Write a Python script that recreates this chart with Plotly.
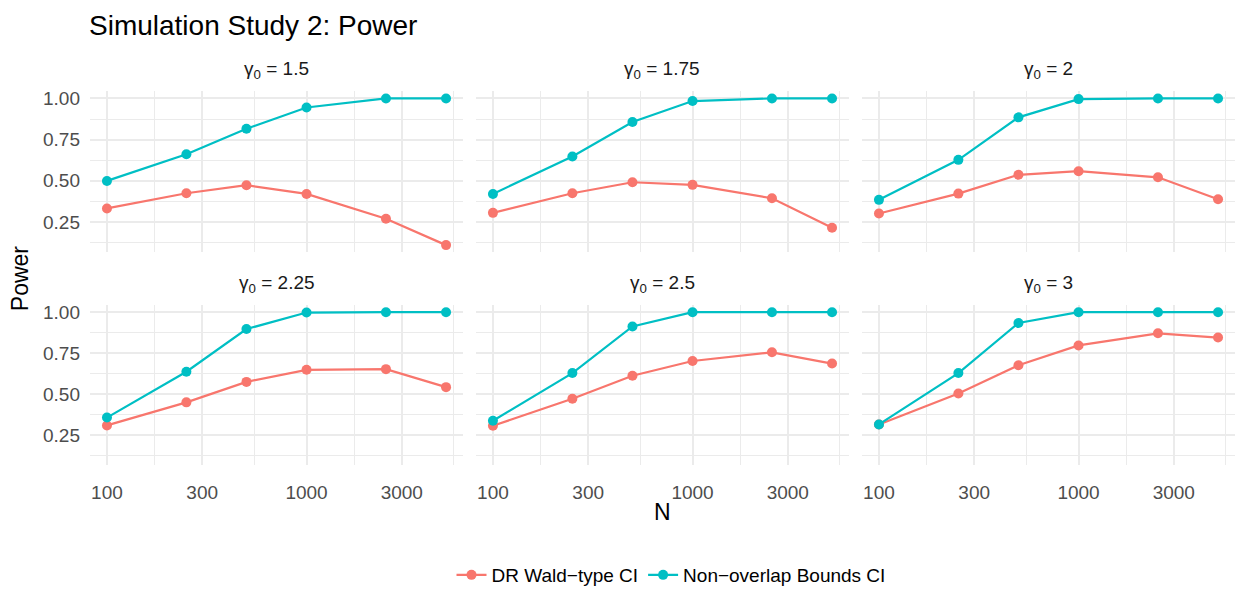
import math
import plotly.graph_objects as go

# ---- data ----
N = [100, 250, 500, 1000, 2500, 5000]
gamma_labels = ["1.5", "1.75", "2", "2.25", "2.5", "3"]
series_names = ["DR Wald\u2212type CI", "Non\u2212overlap Bounds CI"]

wald = [
    [0.332, 0.424, 0.473, 0.420, 0.269, 0.109],
    [0.305, 0.424, 0.491, 0.475, 0.394, 0.215],
    [0.301, 0.422, 0.536, 0.558, 0.521, 0.388],
    [0.308, 0.449, 0.574, 0.648, 0.652, 0.542],
    [0.306, 0.471, 0.612, 0.702, 0.755, 0.686],
    [0.314, 0.503, 0.676, 0.797, 0.871, 0.845],
]
bounds = [
    [0.499, 0.661, 0.816, 0.945, 1.000, 1.000],
    [0.420, 0.647, 0.857, 0.984, 1.000, 1.000],
    [0.384, 0.627, 0.885, 0.996, 1.000, 1.000],
    [0.356, 0.636, 0.897, 0.998, 1.000, 1.000],
    [0.337, 0.628, 0.913, 1.000, 1.000, 1.000],
    [0.314, 0.628, 0.934, 1.000, 1.000, 1.000],
]

x_ticks = [100, 300, 1000, 3000]
x_ticklabels = ["100", "300", "1000", "3000"]
y_ticks = [0.25, 0.50, 0.75, 1.00]
y_ticklabels = ["0.25", "0.50", "0.75", "1.00"]

# ---- style ----
W, H = 1238, 594
colors = ["#F8766D", "#00BFC4"]
FONT = "Liberation Sans"
GRID = "#EBEBEB"

# panel pixel boxes
col_x = [(90, 463), (476, 849), (862, 1235)]
row_y = [(89, 252), (305, 467)]

# ranges with ggplot-like 5% expansion
lx_lo, lx_hi = math.log10(min(N)), math.log10(max(N))
xs = lx_hi - lx_lo
x_range = [lx_lo - 0.05 * xs, lx_hi + 0.05 * xs]
all_vals = [v for s in wald + bounds for v in s]
ylo, yhi = min(all_vals), max(all_vals)
ys = yhi - ylo
y_range = [ylo - 0.05 * ys, yhi + 0.05 * ys]

# minor gridlines at midpoints (in transformed space)
x_minor = [math.sqrt(a * b) for a, b in zip([100, 300, 1000, 3000], [300, 1000, 3000, 10000])]
y_minor = [0.125, 0.375, 0.625, 0.875]

fig = go.Figure()
layout = {}
annotations = []

for i in range(6):
    r, c = divmod(i, 3)
    ax = "" if i == 0 else str(i + 1)
    xa, ya = "x" + ax, "y" + ax
    for s, (vals, name) in enumerate(zip([wald[i], bounds[i]], series_names)):
        fig.add_trace(go.Scatter(
            x=N, y=vals, mode="lines+markers", name=name,
            line=dict(color=colors[s], width=2.2),
            marker=dict(color=colors[s], size=10),
            xaxis=xa, yaxis=ya, showlegend=(i == 0), legendgroup=name,
        ))
    x0, x1 = col_x[c]
    y0, y1 = row_y[r]
    layout["xaxis" + ax] = dict(
        type="log", range=x_range, domain=[x0 / W, x1 / W], anchor=ya,
        tickvals=x_ticks, ticktext=x_ticklabels, showticklabels=(r == 1),
        showgrid=True, gridcolor=GRID, gridwidth=2, zeroline=False, showline=False,
        ticks="", tickfont=dict(family=FONT, size=19, color="#4D4D4D"),
        ticklabelstandoff=14,
        minor=dict(tickvals=x_minor, showgrid=True, gridcolor=GRID, gridwidth=1, ticks=""),
        fixedrange=True,
    )
    layout["yaxis" + ax] = dict(
        range=y_range, domain=[1 - y1 / H, 1 - y0 / H], anchor=xa,
        tickvals=y_ticks, ticktext=y_ticklabels, showticklabels=(c == 0),
        showgrid=True, gridcolor=GRID, gridwidth=2, zeroline=False, showline=False,
        ticks="", tickfont=dict(family=FONT, size=19, color="#4D4D4D"),
        ticklabelstandoff=9,
        minor=dict(tickvals=y_minor, showgrid=True, gridcolor=GRID, gridwidth=1, ticks=""),
        fixedrange=True,
    )
    strip_y = 68 if r == 0 else 284
    annotations.append(dict(
        text="\u03b3<sub>0</sub> = " + gamma_labels[i],
        x=(x0 + x1) / 2 / W, y=1 - strip_y / H, xref="paper", yref="paper",
        xanchor="center", yanchor="middle", showarrow=False,
        font=dict(family=FONT, size=19, color="#1A1A1A"),
    ))

annotations.append(dict(
    text="N", x=662 / W, y=1 - 514 / H, xref="paper", yref="paper",
    xanchor="center", yanchor="middle", showarrow=False,
    font=dict(family=FONT, size=23, color="#000000"),
))
annotations.append(dict(
    text="Power", x=20 / W, y=1 - 278 / H, xref="paper", yref="paper",
    xanchor="center", yanchor="middle", showarrow=False, textangle=-90,
    font=dict(family=FONT, size=23, color="#000000"),
))

fig.update_layout(
    width=W, height=H, margin=dict(l=0, r=0, t=0, b=0),
    paper_bgcolor="white", plot_bgcolor="white",
    title=dict(text="Simulation Study 2: Power", x=89 / W, xanchor="left",
               y=1 - 22 / H, yanchor="middle", xref="paper", yref="paper",
               font=dict(family=FONT, size=28, color="#000000")),
    legend=dict(orientation="h", x=671 / W, xanchor="center", y=1 - 578 / H, yanchor="middle",
                font=dict(family=FONT, size=19, color="#000000"), itemwidth=30,
                bgcolor="rgba(0,0,0,0)"),
    annotations=annotations,
    **layout,
)

fig.write_html("out.html")
